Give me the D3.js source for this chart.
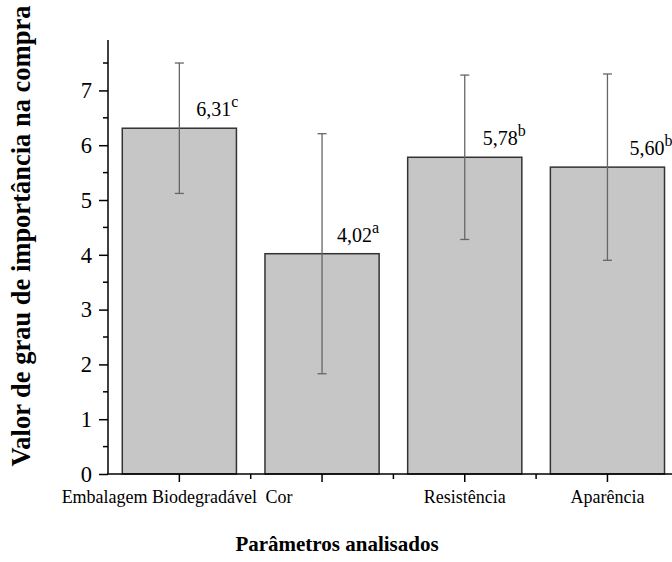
<!DOCTYPE html>
<html><head><meta charset="utf-8">
<script src="https://cdn.jsdelivr.net/npm/d3@7"></script>
<style>body{margin:0;background:#fff}svg{display:block}</style>
</head><body>
<script>
const categories = ["Embalagem Biodegradável", "Cor", "Resistência", "Aparência"];
const means = [6.31, 4.02, 5.78, 5.60];
const errors = [1.19, 2.19, 1.50, 1.70];
const letters = ["c", "a", "b", "b"];
const yTicks = [0, 1, 2, 3, 4, 5, 6, 7];
const yTitle = "Valor de grau de importância na compra";
const xTitle = "Parâmetros analisados";

const W = 672, H = 562;
const svg = d3.select("body").append("svg").attr("width", W).attr("height", H);
const font = "'Liberation Serif','Times New Roman',serif";

const x0 = 108, step = 142.7;
const x = d3.scaleBand().domain(categories).range([x0, x0 + 4 * step]).paddingInner(0.2).paddingOuter(0.1);
const y = d3.scaleLinear().domain([0, 7.92]).range([474, 40]);

// bars
svg.selectAll("rect.bar").data(categories).enter().append("rect")
  .attr("x", d => x(d)).attr("y", (d, i) => y(means[i]))
  .attr("width", x.bandwidth()).attr("height", (d, i) => y(0) - y(means[i]))
  .attr("fill", "#c6c6c6").attr("stroke", "#333").attr("stroke-width", 1.5);

// error bars
const cx = d => x(d) + x.bandwidth() / 2;
const eb = svg.append("g").attr("stroke", "#666").attr("stroke-width", 1.3);
categories.forEach((c, i) => {
  const xc = cx(c), top = y(means[i] + errors[i]), bot = y(means[i] - errors[i]);
  eb.append("line").attr("x1", xc).attr("x2", xc).attr("y1", top).attr("y2", bot);
  eb.append("line").attr("x1", xc - 4.5).attr("x2", xc + 4.5).attr("y1", top).attr("y2", top);
  eb.append("line").attr("x1", xc - 4.5).attr("x2", xc + 4.5).attr("y1", bot).attr("y2", bot);
});

// value labels
const labOff = [17, 15, 18, 22];
categories.forEach((c, i) => {
  const t = svg.append("text").attr("x", cx(c) + labOff[i]).attr("y", y(means[i]) - 12)
    .attr("font-family", font).attr("font-size", 20).attr("fill", "#000");
  t.append("tspan").text(means[i].toFixed(2).replace(".", ","));
  t.append("tspan").attr("dy", -9).attr("font-size", 16).text(letters[i]);
});

// y axis
const yAxis = d3.axisLeft(y).tickValues(yTicks).tickSize(9).tickPadding(7).tickFormat(d3.format("d"));
const gy = svg.append("g").attr("transform", `translate(${x0},0)`).call(yAxis);
gy.select(".domain").attr("stroke", "#000").attr("stroke-width", 1.5).attr("d", `M0,${y(0)}V${y(7.92)}`);
gy.selectAll(".tick line").attr("stroke-width", 1.5);
gy.selectAll("text").attr("font-family", font).attr("font-size", 22.5).attr("fill", "#000").attr("dy", "0.32em");
const minorY = d3.range(0.5, 7.6, 1);
gy.selectAll("line.minor").data(minorY).enter().append("line")
  .attr("x1", -5).attr("x2", 0).attr("y1", d => y(d)).attr("y2", d => y(d))
  .attr("stroke", "#000").attr("stroke-width", 1.5);

// x axis
const gx = svg.append("g").attr("transform", `translate(0,${y(0)})`);
gx.append("line").attr("x1", x0 - 1).attr("x2", W).attr("y1", 0).attr("y2", 0).attr("stroke", "#000").attr("stroke-width", 1.5);
categories.forEach((c, i) => {
  gx.append("line").attr("x1", cx(c)).attr("x2", cx(c)).attr("y1", 0).attr("y2", 8).attr("stroke", "#000").attr("stroke-width", 1.5);
  const b = x0 + (i + 1) * x.step();
  gx.append("line").attr("x1", b).attr("x2", b).attr("y1", 0).attr("y2", 5).attr("stroke", "#000").attr("stroke-width", 1.5);
});
const xLabOff = [-20, -43, 0, 0];
categories.forEach((c, i) => {
  gx.append("text").attr("x", cx(c) + xLabOff[i]).attr("y", 29).attr("text-anchor", "middle")
    .attr("font-family", font).attr("font-size", 18).attr("fill", "#000").text(c);
});

// titles
svg.append("text").attr("transform", "translate(30,236) rotate(-90)").attr("text-anchor", "middle")
  .attr("font-family", font).attr("font-weight", "bold").attr("font-size", 26.5).attr("fill", "#000").text(yTitle);
svg.append("text").attr("x", 337).attr("y", 551).attr("text-anchor", "middle")
  .attr("font-family", font).attr("font-weight", "bold").attr("font-size", 21).attr("fill", "#000").text(xTitle);
</script>
</body></html>
